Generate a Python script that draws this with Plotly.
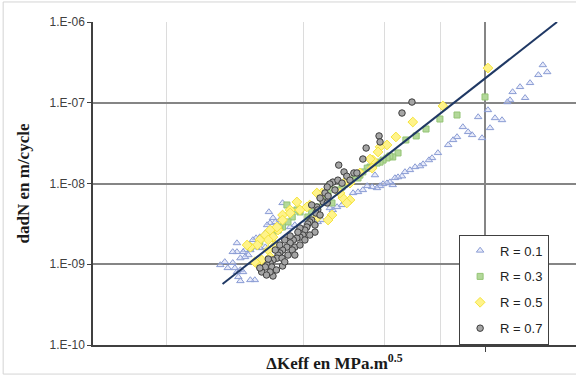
import plotly.graph_objects as go

# ---- Crack growth data: dK_eff (MPa.m^0.5) vs da/dN (m/cycle) ----
dk_r01 = [13.4, 13.7, 13.1, 12.56, 11.94, 11.5, 12.25, 11.35, 11.2, 10.15,
          9.66, 10.52, 10.9, 10.26, 8.94, 9.18, 9.37, 9.85, 8.68, 8.51,
          8.30, 7.88, 7.65, 7.53, 7.31, 7.20, 7.02, 6.84, 6.67, 6.57,
          6.44, 6.34, 5.73, 6.27, 6.18, 6.09, 5.97, 5.88, 5.79, 5.65,
          5.51, 5.39, 5.26, 5.13, 4.92, 4.85, 4.73, 4.63, 4.56, 4.38,
          4.29, 4.23, 4.06, 3.82, 3.73, 3.59, 3.35, 3.42, 3.54, 3.46,
          3.37, 3.32, 3.49, 3.37, 3.29, 3.23, 3.20, 3.14, 3.09, 2.85,
          3.29, 3.20, 3.14, 3.05, 2.97, 2.94, 2.85, 2.79, 3.02, 2.97,
          2.90, 2.79, 2.82, 2.85, 2.90, 2.94, 2.87, 2.90, 3.12, 3.05,
          2.62, 2.68, 2.72]
dadn_r01 = [2.93e-7, 2.40e-7, 2.21e-7, 1.76e-7, 1.57e-7, 1.36e-7, 1.15e-7, 1.08e-7, 1.02e-7, 8.13e-8,
            6.66e-8, 6.47e-8, 6.11e-8, 4.87e-8, 5.01e-8, 4.35e-8, 3.99e-8, 3.66e-8, 3.77e-8, 3.46e-8,
            3.00e-8, 2.39e-8, 2.07e-8, 1.95e-8, 1.74e-8, 1.64e-8, 1.60e-8, 1.47e-8, 1.39e-8, 1.23e-8,
            1.20e-8, 1.17e-8, 1.27e-8, 9.58e-9, 1.04e-8, 1.01e-8, 9.86e-9, 9.31e-9, 8.79e-9, 9.05e-9,
            9.31e-9, 8.31e-9, 7.85e-9, 7.63e-9, 5.91e-9, 5.42e-9, 5.12e-9, 4.70e-9, 4.97e-9, 3.53e-9,
            3.34e-9, 3.53e-9, 3.53e-9, 3.06e-9, 2.89e-9, 5.74e-9, 4.44e-9, 3.74e-9, 3.53e-9, 3.34e-9,
            3.24e-9, 3.06e-9, 2.65e-9, 2.50e-9, 2.43e-9, 2.12e-9, 2.17e-9, 2.11e-9, 2.00e-9, 1.83e-9,
            1.63e-9, 1.59e-9, 1.63e-9, 1.50e-9, 1.50e-9, 1.42e-9, 1.42e-9, 1.42e-9, 1.30e-9, 1.23e-9,
            1.19e-9, 1.04e-9, 8.98e-10, 8.02e-10, 8.49e-10, 8.02e-10, 6.96e-10, 6.20e-10, 6.38e-10, 6.38e-10,
            9.79e-10, 1.07e-9, 8.99e-10]

dk_r03 = [10.0, 8.68, 7.96, 7.42, 7.06, 6.70, 6.44, 6.27, 6.18, 6.09,
          5.97, 5.88, 5.79, 5.67, 5.59, 5.51, 5.39, 5.31, 5.26, 5.18,
          5.05, 4.92, 4.85, 4.73, 4.56, 4.52, 4.38, 4.29, 4.61, 4.16,
          4.08, 3.92, 3.86, 3.77, 3.69, 3.59, 3.54, 3.51, 3.42, 3.34,
          3.20, 3.05, 3.67]
dadn_r03 = [1.18e-7, 7.05e-8, 6.29e-8, 4.73e-8, 3.88e-8, 3.46e-8, 2.39e-8, 2.13e-8, 2.19e-8, 2.07e-8,
            1.95e-8, 1.84e-8, 1.79e-8, 1.69e-8, 1.60e-8, 1.55e-8, 1.39e-8, 1.27e-8, 1.17e-8, 1.27e-8,
            1.10e-8, 9.86e-9, 9.05e-9, 8.31e-9, 9.58e-9, 7.63e-9, 6.61e-9, 5.12e-9, 5.74e-9, 4.44e-9,
            3.85e-9, 4.44e-9, 4.70e-9, 3.85e-9, 3.34e-9, 2.89e-9, 2.89e-9, 2.65e-9, 2.30e-9, 2.17e-9,
            1.89e-9, 1.63e-9, 5.42e-9]

dk_r05 = [10.15, 8.08, 6.94, 6.37, 6.09, 5.88, 5.82, 5.67, 5.59, 5.65,
          5.31, 5.05, 4.97, 4.87, 5.05, 4.97, 4.80, 4.61, 4.52, 4.29,
          4.38, 4.27, 4.12, 4.06, 3.92, 3.86, 3.73, 3.73, 3.59, 3.59,
          3.51, 3.49, 3.37, 3.42, 3.29, 3.34, 3.20, 3.16, 3.05, 3.00,
          3.46, 3.34, 3.37, 3.23, 3.14, 3.12]
dadn_r05 = [2.69e-7, 9.12e-8, 5.77e-8, 3.77e-8, 3.00e-8, 2.84e-8, 2.46e-8, 1.95e-8, 2.01e-8, 1.55e-8,
            1.35e-8, 1.01e-8, 1.10e-8, 6.61e-9, 6.25e-9, 5.74e-9, 7.63e-9, 4.07e-9, 3.53e-9, 3.85e-9,
            7.63e-9, 7.63e-9, 5.42e-9, 5.12e-9, 4.70e-9, 5.91e-9, 4.70e-9, 4.31e-9, 4.07e-9, 3.53e-9,
            2.65e-9, 2.89e-9, 2.65e-9, 2.17e-9, 2.30e-9, 2.00e-9, 2.00e-9, 1.73e-9, 1.63e-9, 1.73e-9,
            1.73e-9, 1.50e-9, 1.23e-9, 1.13e-9, 1.04e-9, 1.07e-9]

dk_r07 = [6.91, 6.57, 5.85, 5.88, 5.48, 5.39, 4.77, 4.90, 5.15, 5.23,
          4.97, 4.63, 4.56, 4.50, 4.45, 4.41, 4.50, 4.27, 4.29, 4.25,
          4.16, 4.12, 4.08, 4.06, 4.02, 4.23, 3.98, 3.92, 3.86, 3.79,
          3.73, 3.67, 3.82, 3.59, 3.54, 3.51, 3.49, 3.42, 3.37, 3.32,
          3.29, 3.40, 3.59, 3.23, 3.42, 3.92, 4.02, 3.88, 3.73, 3.63,
          3.77, 3.92, 3.69, 3.58, 3.46, 3.63, 3.48, 3.34, 4.12, 4.23,
          4.34, 4.16, 4.34, 4.52, 4.68, 4.75, 4.85, 5.05, 3.82, 3.54,
          3.37, 3.20, 3.31]
dadn_r07 = [1.02e-7, 7.46e-8, 3.88e-8, 3.27e-8, 2.75e-8, 2.01e-8, 1.69e-8, 1.39e-8, 1.35e-8, 1.35e-8,
            1.23e-8, 1.04e-8, 9.86e-9, 9.05e-9, 7.63e-9, 5.91e-9, 5.74e-9, 5.12e-9, 4.70e-9, 4.31e-9,
            3.53e-9, 3.34e-9, 3.15e-9, 2.89e-9, 2.65e-9, 2.50e-9, 2.30e-9, 2.17e-9, 2.11e-9, 2.00e-9,
            1.84e-9, 1.63e-9, 1.63e-9, 1.50e-9, 1.38e-9, 1.30e-9, 1.19e-9, 1.13e-9, 1.04e-9, 9.79e-10,
            9.25e-10, 9.25e-10, 9.52e-10, 8.02e-10, 7.15e-10, 2.81e-9, 2.00e-9, 2.50e-9, 2.24e-9, 2.00e-9,
            1.50e-9, 1.73e-9, 1.30e-9, 1.19e-9, 1.50e-9, 1.07e-9, 8.49e-10, 1.16e-9, 2.30e-9, 3.06e-9,
            4.07e-9, 5.42e-9, 6.61e-9, 7.00e-9, 8.31e-9, 1.10e-8, 1.01e-8, 1.10e-8, 1.30e-9, 1.73e-9,
            8.02e-10, 8.99e-10, 7.36e-10]

# Paris-law trend line end points
fit_dk = [2.65, 14.4]
fit_dadn = [5.69e-10, 1.0e-6]

y_ticks = [1e-10, 1e-9, 1e-8, 1e-7, 1e-6]
y_ticktext = ["1.E-10", "1.E-09", "1.E-08", "1.E-07", "1.E-06"]

series = [
    ("R = 0.1", dk_r01, dadn_r01,
     dict(symbol="triangle-up", size=6.5, color="rgba(210,216,245,0.5)",
          line=dict(color="#8a9cd4", width=1))),
    ("R = 0.3", dk_r03, dadn_r03,
     dict(symbol="square", size=6, color="#b3d89a",
          line=dict(color="#94c474", width=1))),
    ("R = 0.5", dk_r05, dadn_r05,
     dict(symbol="diamond", size=7.5, color="#fff38a",
          line=dict(color="#f5e43c", width=1))),
    ("R = 0.7", dk_r07, dadn_r07,
     dict(symbol="circle", size=6.5, color="#a5a5a5",
          line=dict(color="#3c3c3c", width=1))),
]

fig = go.Figure()
for i, (name, xs, ys, mk) in enumerate(series):
    fig.add_trace(go.Scatter(x=xs, y=ys, mode="markers", name=name,
                             marker=mk, legendgroup=f"g{i}"))

fig.add_trace(go.Scatter(x=fit_dk, y=fit_dadn, mode="lines",
                         line=dict(color="#1f3864", width=2),
                         showlegend=False, hoverinfo="skip"))

fig.update_layout(
    width=576, height=376,
    margin=dict(l=93, r=0, t=22, b=31),
    paper_bgcolor="white", plot_bgcolor="white",
    showlegend=True,
    legend=dict(x=0.758, y=0.342, xanchor="left", yanchor="top",
                bgcolor="white", bordercolor="#404040", borderwidth=1,
                font=dict(family="Liberation Sans, Arial, sans-serif",
                          size=13, color="#222222"),
                tracegroupgap=6),
    xaxis=dict(
        type="log", range=[0.1385, 1.2],
        tickvals=[10], showticklabels=False,
        ticks="outside", ticklen=5, tickcolor="#404040",
        showgrid=True, gridcolor="#858585", gridwidth=1.5,
        minor=dict(tickvals=[2, 4, 6, 8], showgrid=True,
                   gridcolor="#dcdcdc", gridwidth=1, ticks=""),
        showline=True, linecolor="#404040", linewidth=1.5,
        zeroline=False,
        title=dict(text="<b>ΔKeff en MPa.m<sup>0.5</sup></b>",
                   font=dict(family="Liberation Serif, Times New Roman, serif",
                             size=17, color="#1a1a1a"),
                   standoff=6),
    ),
    yaxis=dict(
        type="log", range=[-10, -6],
        tickvals=y_ticks, ticktext=y_ticktext,
        ticks="outside", ticklen=4, tickcolor="#404040",
        tickfont=dict(family="Liberation Sans, Arial, sans-serif",
                      size=12, color="#404040"),
        showgrid=True, gridcolor="#858585", gridwidth=1.5,
        showline=True, linecolor="#404040", linewidth=1.5,
        zeroline=False,
        title=dict(text="<b>dadN en m/cycle</b>",
                   font=dict(family="Liberation Serif, Times New Roman, serif",
                             size=17, color="#1a1a1a"),
                   standoff=16),
    ),
    shapes=[dict(type="rect", xref="paper", yref="paper",
                 x0=-0.186, x1=1.05, y0=-0.09, y1=1.062,
                 line=dict(color="#d4d4d4", width=1), layer="below")],
)

fig.write_html("out.html")
